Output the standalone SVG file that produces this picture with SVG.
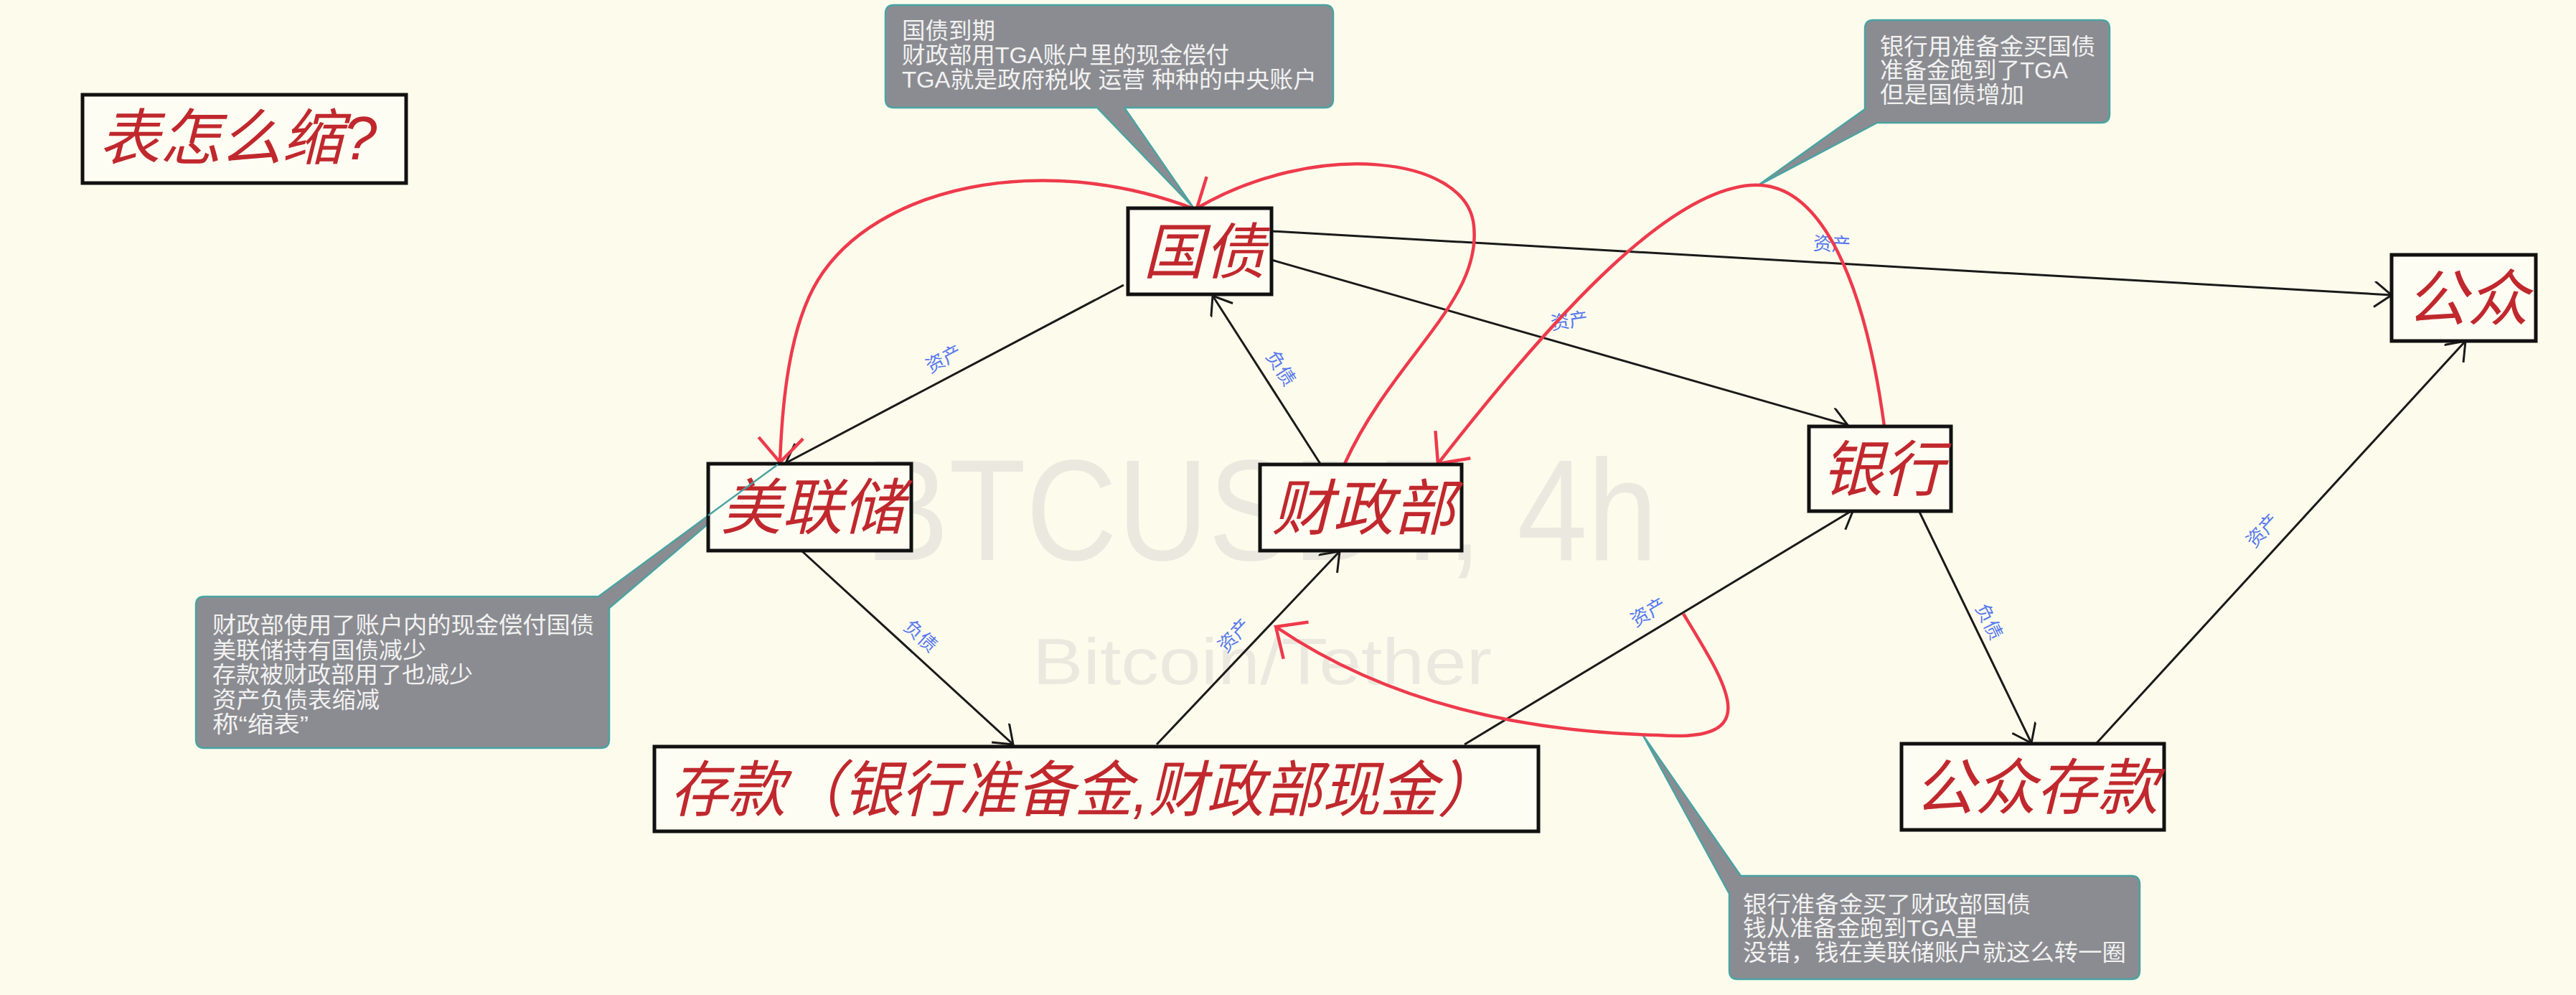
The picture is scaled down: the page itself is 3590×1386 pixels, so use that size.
<svg xmlns="http://www.w3.org/2000/svg" width="3590" height="1386" viewBox="0 0 3590 1386">
<style>
.bg{fill:#fdfcec}
.wm{fill:#ebe9df;font-family:"Liberation Sans",sans-serif}
.box{fill:#fefdf3;stroke:#111;stroke-width:5}
.nt{fill:#c0282d;font-family:"Liberation Sans","Noto Sans CJK SC",sans-serif;font-style:italic;font-size:85px;text-anchor:middle}
.ln{fill:none;stroke:#1a1a1a;stroke-width:3;marker-end:url(#ah)}
.rc{fill:none;stroke:#ee3a4c;stroke-width:4.5;marker-end:url(#rah)}
.lb{fill:#5577f0;font-family:"Liberation Sans","Noto Sans CJK SC",sans-serif;font-size:26px;text-anchor:middle;dominant-baseline:central}
.co{fill:#8b8c91;stroke:#4aa3a3;stroke-width:2.5;stroke-linejoin:round}
.ct{fill:#f2f2f2;font-family:"Liberation Sans","Noto Sans CJK SC",sans-serif;font-size:32px}
</style>
<defs>
<marker id="ah" markerUnits="userSpaceOnUse" markerWidth="34" markerHeight="40" refX="28" refY="18" orient="auto" viewBox="0 0 34 40">
<path d="M4,0 L28,18 L4,36" fill="none" stroke="#1a1a1a" stroke-width="3"/>
</marker>
<marker id="rah" markerUnits="userSpaceOnUse" markerWidth="50" markerHeight="70" refX="42" refY="33" orient="auto" viewBox="0 0 50 70">
<path d="M8,2 L42,33 L8,64" fill="none" stroke="#ee3a4c" stroke-width="4.5"/>
</marker>
</defs>
<rect class="bg" x="0" y="0" width="3590" height="1386"/>
<g id="watermark">
<text class="wm" x="1205" y="780" font-size="200" textLength="1105" lengthAdjust="spacingAndGlyphs">BTCUSDT, 4h</text>
<text class="wm" x="1439" y="953" font-size="90" textLength="640" lengthAdjust="spacingAndGlyphs">Bitcoin/Tether</text>
</g>
<g id="callouts">
<g id="callout-maturity">
<path class="co" d="M1246,7 H1846 Q1858,7 1858,19 V138 Q1858,150 1846,150 H1567 L1663,289 L1529,150 H1246 Q1234,150 1234,138 V19 Q1234,7 1246,7 Z"/>
<text class="ct" x="1257" y="54" textLength="130" lengthAdjust="spacingAndGlyphs">国债到期</text>
<text class="ct" x="1257" y="88" textLength="456" lengthAdjust="spacingAndGlyphs">财政部用TGA账户里的现金偿付</text>
<text class="ct" x="1257" y="122" textLength="578" lengthAdjust="spacingAndGlyphs">TGA就是政府税收 运营 种种的中央账户</text>
</g>
<g id="callout-bank">
<path class="co" d="M2611,28 H2928 Q2940,28 2940,40 V159 Q2940,171 2928,171 H2616 L2449,259 L2599,152 V40 Q2599,28 2611,28 Z"/>
<text class="ct" x="2620" y="76" textLength="300" lengthAdjust="spacingAndGlyphs">银行用准备金买国债</text>
<text class="ct" x="2620" y="109" textLength="262" lengthAdjust="spacingAndGlyphs">准备金跑到了TGA</text>
<text class="ct" x="2620" y="143" textLength="201" lengthAdjust="spacingAndGlyphs">但是国债增加</text>
</g>
<g id="callout-fed">
<path class="co" d="M285,831 H834 L1084,647 L849,847 V1030 Q849,1042 837,1042 H285 Q273,1042 273,1030 V843 Q273,831 285,831 Z"/>
<text class="ct" x="296" y="882" textLength="532" lengthAdjust="spacingAndGlyphs">财政部使用了账户内的现金偿付国债</text>
<text class="ct" x="296" y="917" textLength="298" lengthAdjust="spacingAndGlyphs">美联储持有国债减少</text>
<text class="ct" x="296" y="951" textLength="363" lengthAdjust="spacingAndGlyphs">存款被财政部用了也减少</text>
<text class="ct" x="296" y="986" textLength="233" lengthAdjust="spacingAndGlyphs">资产负债表缩减</text>
<text class="ct" x="296" y="1020" textLength="134" lengthAdjust="spacingAndGlyphs">称“缩表”</text>
</g>
<g id="callout-loop">
<path class="co" d="M2426,1220 H2970 Q2982,1220 2982,1232 V1352 Q2982,1364 2970,1364 H2422 Q2410,1364 2410,1352 V1245 L2289,1023 Z"/>
<text class="ct" x="2429" y="1271" textLength="401" lengthAdjust="spacingAndGlyphs">银行准备金买了财政部国债</text>
<text class="ct" x="2429" y="1304" textLength="328" lengthAdjust="spacingAndGlyphs">钱从准备金跑到TGA里</text>
<text class="ct" x="2429" y="1338" textLength="534" lengthAdjust="spacingAndGlyphs">没错，钱在美联储账户就这么转一圈</text>
</g>
</g>
<g id="connectors">
<path class="ln" d="M1566,397 L1095,645"/>
<path class="ln" d="M1840,646 L1690,412"/>
<path class="ln" d="M1772,322 L3333,411"/>
<path class="ln" d="M1772,362 L2575,592"/>
<path class="ln" d="M1118,768 L1412,1037"/>
<path class="ln" d="M1612,1037 L1867,768"/>
<path class="ln" d="M2041,1037 L2583,710"/>
<path class="ln" d="M2674,711 L2831,1035"/>
<path class="ln" d="M2922,1035 L3436,475"/>
<text class="lb" transform="translate(1315,500) rotate(-28)">资产</text>
<text class="lb" transform="translate(1785,513) rotate(57)">负债</text>
<text class="lb" transform="translate(2553,340) rotate(3)">资产</text>
<text class="lb" transform="translate(2187,447) rotate(-8)">资产</text>
<text class="lb" transform="translate(1283,886) rotate(42)">负债</text>
<text class="lb" transform="translate(1720,885) rotate(-47)">资产</text>
<text class="lb" transform="translate(2297,853) rotate(-31)">资产</text>
<text class="lb" transform="translate(2772,866) rotate(64)">负债</text>
<text class="lb" transform="translate(3153,739) rotate(-47)">资产</text>
<path class="rc" d="M1700,312 L1662,290 C1450,210 1220,260 1140,390 C1100,455 1090,560 1087,644"/>
<path class="rc" d="M1874,646 C1940,500 2065,420 2054,315 C2045,215 1830,195 1668,290"/>
<path class="rc" d="M2626,594 C2600,400 2540,250 2440,258 C2330,266 2180,420 2004,646"/>
<path class="rc" d="M2346,855 C2410,960 2460,1035 2310,1024 C2150,1020 1950,990 1778,873"/>
</g>
<g id="node-title">
<rect class="box" x="115" y="132" width="451" height="123"/>
<text class="nt" x="138" y="222" style="text-anchor:start">表怎么缩?</text>
</g>
<g id="node-treasury-bond">
<rect class="box" x="1572" y="290" width="200" height="120"/>
<text class="nt" x="1678" y="381">国债</text>
</g>
<g id="node-public">
<rect class="box" x="3333" y="355" width="201" height="120"/>
<text class="nt" x="3439" y="446">公众</text>
</g>
<g id="node-bank">
<rect class="box" x="2521" y="594" width="198" height="118"/>
<text class="nt" x="2624" y="684">银行</text>
</g>
<g id="node-fed">
<rect class="box" x="987" y="646" width="283" height="121"/>
<text class="nt" x="1132" y="737">美联储</text>
</g>
<g id="node-treasury">
<rect class="box" x="1756" y="647" width="281" height="120"/>
<text class="nt" x="1900" y="738">财政部</text>
</g>
<g id="node-deposits">
<rect class="box" x="912" y="1040" width="1232" height="118"/>
<text class="nt" x="934" y="1130" style="text-anchor:start" textLength="1150" lengthAdjust="spacingAndGlyphs">存款（银行准备金,财政部现金）</text>
</g>
<g id="node-public-deposits">
<rect class="box" x="2650" y="1036" width="366" height="120"/>
<text class="nt" x="2838" y="1127">公众存款</text>
</g>
<g id="callout-fed-pointer-edge">
<path d="M987,718 L1084,647" fill="none" stroke="#4aa3a3" stroke-width="2.5"/>
</g>
</svg>
